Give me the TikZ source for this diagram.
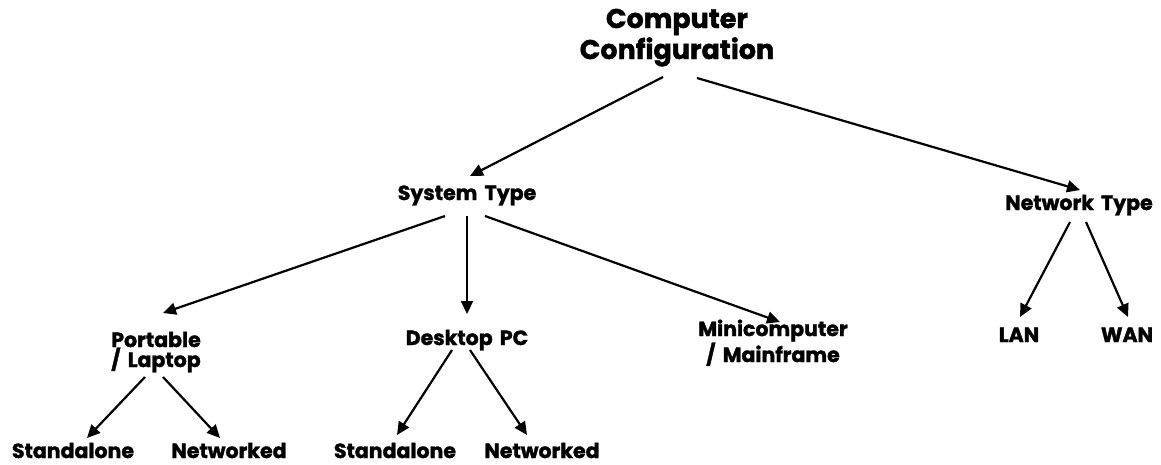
\documentclass[tikz,border=0pt]{standalone}
\usepackage{fontspec}
\setmainfont{Poppins}[BoldFeatures={FakeBold=1.6}]
\usetikzlibrary{arrows.meta}
\begin{document}
\begin{tikzpicture}[x=1pt,y=-1pt,
  lbl/.style={inner sep=0pt, anchor=base, align=center, font=\bfseries\fontsize{20.5}{20}\selectfont},
  ttl/.style={inner sep=0pt, anchor=base, align=center, font=\bfseries\fontsize{27}{31}\selectfont},
  arr/.style={line width=2.2pt, -{Triangle[length=13pt,width=12pt]}}]
\useasboundingbox (0,0) rectangle (1161,464);
\newcommand{\gap}{\hspace{0.35em}}
% labels (multi-line labels are anchored at the baseline of their last line)
\node[ttl] (title) at (677,59) {Computer\\Configuration};
\node[lbl] (sys)  at (467,200) {System\gap Type};
\node[lbl] (net)  at (1079,210) {Network\gap Type};
\node[lbl] (port) at (156,367) {Portable\\/\gap Laptop};
\node[lbl] (desk) at (467,345) {Desktop\gap PC};
\node[lbl] (mini) at (773,362) {Minicomputer\\/\gap Mainframe};
\node[lbl] (lan)  at (1019,342) {LAN};
\node[lbl] (wan)  at (1127,342) {WAN};
\node[lbl] (sa1)  at (73,458) {Standalone};
\node[lbl] (nw1)  at (229,458) {Networked};
\node[lbl] (sa2)  at (395,458) {Standalone};
\node[lbl] (nw2)  at (542,458) {Networked};
% connectors
\draw[arr] ([shift={(-14,18)}]title.base) -- ([shift={(3,-24)}]sys.base);
\draw[arr] ([shift={(20,19)}]title.base) -- ([shift={(1,-20)}]net.base);
\draw[arr] ([shift={(-22,16)}]sys.base) -- ([shift={(7,-54)}]port.base);
\draw[arr] ([shift={(0,16)}]sys.base) -- ([shift={(0,-31)}]desk.base);
\draw[arr] ([shift={(18,16)}]sys.base) -- ([shift={(7,-40)}]mini.base);
\draw[arr] ([shift={(-9,12)}]net.base) -- ([shift={(1,-25)}]lan.base);
\draw[arr] ([shift={(7,12)}]net.base) -- ([shift={(1,-25)}]wan.base);
\draw[arr] ([shift={(-11,10)}]port.base) -- ([shift={(14,-20)}]sa1.base);
\draw[arr] ([shift={(7,10)}]port.base) -- ([shift={(-9,-20)}]nw1.base);
\draw[arr] ([shift={(-15,5)}]desk.base) -- ([shift={(2,-23)}]sa2.base);
\draw[arr] ([shift={(3,5)}]desk.base) -- ([shift={(-15,-23)}]nw2.base);
\end{tikzpicture}
\end{document}
